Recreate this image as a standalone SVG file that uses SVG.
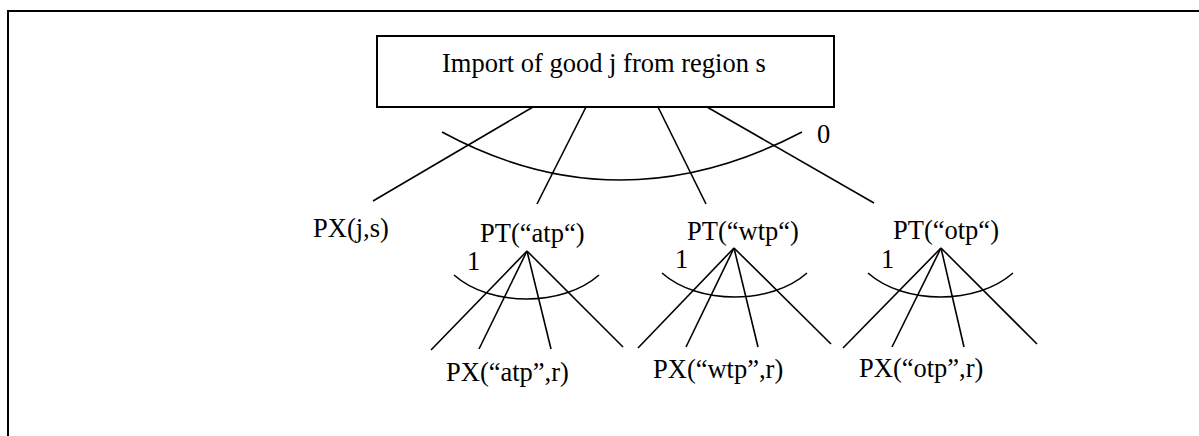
<svg xmlns="http://www.w3.org/2000/svg" width="1199" height="436" viewBox="0 0 1199 436">
<style>
  text { font-family: "Liberation Serif", "Times New Roman", serif; font-size: 26.5px; fill: #000; }
  .ln { stroke: #000; stroke-width: 1.6; fill: none; }
  .box { stroke: #000; stroke-width: 2; fill: #fff; }
  .frame { stroke: #000; stroke-width: 2; fill: none; }
</style>
<rect width="1199" height="436" fill="#fff"/>
<path class="frame" d="M8,436 V11 H1199"/>

<g id="connectors">
  <!-- top level -->
  <line class="ln" x1="533" y1="107" x2="373" y2="201"/>
  <line class="ln" x1="586" y1="107" x2="537" y2="204"/>
  <line class="ln" x1="658" y1="107" x2="706" y2="204"/>
  <line class="ln" x1="707" y1="107" x2="874" y2="203"/>
  <path class="ln" d="M442,132 C560,196 680,196 802,132"/>
  <!-- atp -->
  <line class="ln" x1="527" y1="251" x2="431" y2="350"/>
  <line class="ln" x1="527" y1="251" x2="479" y2="349"/>
  <line class="ln" x1="527" y1="251" x2="551" y2="349"/>
  <line class="ln" x1="527" y1="251" x2="623" y2="347"/>
  <path class="ln" d="M454,275 C490,307 563,307 599,275"/>
  <!-- wtp -->
  <line class="ln" x1="734" y1="248" x2="638" y2="348"/>
  <line class="ln" x1="734" y1="248" x2="686" y2="347"/>
  <line class="ln" x1="734" y1="248" x2="758" y2="347"/>
  <line class="ln" x1="734" y1="248" x2="831" y2="344"/>
  <path class="ln" d="M662,273 C698,305 771,305 807,273"/>
  <!-- otp -->
  <line class="ln" x1="941" y1="248" x2="843" y2="348"/>
  <line class="ln" x1="941" y1="248" x2="892" y2="347"/>
  <line class="ln" x1="941" y1="248" x2="964" y2="347"/>
  <line class="ln" x1="941" y1="248" x2="1037" y2="344"/>
  <path class="ln" d="M868,273 C904,305 977,305 1013,273"/>
</g>

<g id="import-node">
  <rect class="box" x="377" y="36" width="457" height="71"/>
  <text x="442" y="72">Import of good j from region s</text>
</g>
<g id="label-0"><text x="817" y="143">0</text></g>
<g id="px-js"><text x="313" y="237">PX(j,s)</text></g>
<g id="pt-atp"><text x="480" y="242">PT(“atp“)</text></g>
<g id="pt-wtp"><text x="687" y="240">PT(“wtp“)</text></g>
<g id="pt-otp"><text x="893" y="239">PT(“otp“)</text></g>
<g id="label-1-atp"><text x="467" y="270">1</text></g>
<g id="label-1-wtp"><text x="675" y="268">1</text></g>
<g id="label-1-otp"><text x="881" y="268">1</text></g>
<g id="px-atp"><text x="446" y="381">PX(“atp”,r)</text></g>
<g id="px-wtp"><text x="653" y="378">PX(“wtp”,r)</text></g>
<g id="px-otp"><text x="859" y="377">PX(“otp”,r)</text></g>
</svg>
